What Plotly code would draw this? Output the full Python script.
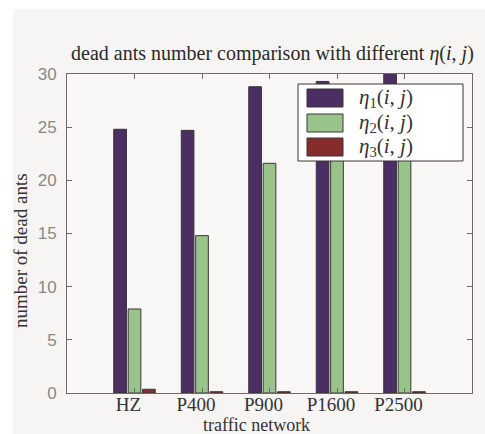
import plotly.graph_objects as go

categories = ["HZ", "P400", "P900", "P1600", "P2500"]
eta1 = [24.8, 24.7, 28.8, 29.3, 30.4]
eta2 = [7.9, 14.8, 21.6, 23.0, 23.8]
eta3 = [0.35, 0.12, 0.12, 0.12, 0.12]
yticks = [0, 5, 10, 15, 20, 25, 30]

series_names = ["<i>η</i><sub>1</sub>(<i>i</i>, <i>j</i>)",
                "<i>η</i><sub>2</sub>(<i>i</i>, <i>j</i>)",
                "<i>η</i><sub>3</sub>(<i>i</i>, <i>j</i>)"]
colors = ["#4b2e63", "#98c48c", "#862c2c"]

W, H = 485, 434
L, R, T, B = 67, 472, 74, 393

def px(x):
    return (x - L) / (R - L)

def py(y):
    return (B - y) / (B - T)

xpos = list(range(1, len(categories) + 1))

fig = go.Figure()
for name, vals, c in zip(series_names, [eta1, eta2, eta3], colors):
    fig.add_trace(go.Bar(x=xpos, y=vals, name=name, marker=dict(color=c, line=dict(color="#3a3535", width=1)),
                         showlegend=False))

serif = "Liberation Serif, Times New Roman, serif"
fig.update_layout(
    width=W, height=H,
    margin=dict(l=L, r=W - R, t=T, b=H - B),
    paper_bgcolor="#f6f5f3",
    plot_bgcolor="#f8f7f5",
    barmode="group", bargap=0.36, bargroupgap=0.12,
    xaxis=dict(range=[0, 6], tickvals=xpos, ticktext=categories, showgrid=False, zeroline=False,
               showline=True, linecolor="#6f6a66", linewidth=1, mirror="ticks",
               ticks="inside", ticklen=5, tickcolor="#6f6a66", ticklabelstandoff=-6, ticklabelshift=-6,
               tickfont=dict(family=serif, size=19, color="#333333")),
    yaxis=dict(range=[0, 30], tickvals=yticks, showgrid=False, zeroline=False,
               showline=True, linecolor="#6f6a66", linewidth=1, mirror="ticks",
               ticks="inside", ticklen=5, tickcolor="#6f6a66", ticklabelstandoff=6,
               tickfont=dict(family="Liberation Sans, Arial, sans-serif", size=17, color="#8a8886")),
    showlegend=False,
)

shapes = []
shapes.append(dict(type="rect", xref="paper", yref="paper", x0=px(0), x1=px(W), y0=py(0), y1=py(9),
                   fillcolor="white", line=dict(width=0), layer="below"))
shapes.append(dict(type="rect", xref="paper", yref="paper", x0=px(0), x1=px(13), y0=py(H), y1=py(0),
                   fillcolor="white", line=dict(width=0), layer="below"))
shapes.append(dict(type="rect", xref="paper", yref="paper", x0=px(298), x1=px(463), y0=py(161), y1=py(84),
                   fillcolor="white", line=dict(color="#3a3535", width=1), layer="above"))
sw_y = [(89, 107), (114, 132), (138, 156)]
for (y0, y1), c in zip(sw_y, colors):
    shapes.append(dict(type="rect", xref="paper", yref="paper", x0=px(307), x1=px(343), y0=py(y1), y1=py(y0),
                       fillcolor=c, line=dict(color="#3a3535", width=1), layer="above"))
fig.update_layout(shapes=shapes)

ann = []
for (y0, y1), name in zip(sw_y, series_names):
    ann.append(dict(xref="paper", yref="paper", x=px(357), y=py((y0 + y1) / 2), text=name, showarrow=False,
                    xanchor="left", yanchor="middle", font=dict(family=serif, size=21, color="#333333")))
ann.append(dict(xref="paper", yref="paper", x=px(272), y=py(54),
                text="dead ants number comparison with different <i>η</i>(<i>i</i>, <i>j</i>)",
                showarrow=False, xanchor="center", yanchor="middle",
                font=dict(family=serif, size=20, color="#2a2a2a")))
ann.append(dict(xref="paper", yref="paper", x=px(256), y=py(425), text="traffic network",
                showarrow=False, xanchor="center", yanchor="middle",
                font=dict(family=serif, size=18, color="#333333")))
ann.append(dict(xref="paper", yref="paper", x=px(20), y=py(251), text="number of dead ants",
                showarrow=False, xanchor="center", yanchor="middle", textangle=-90,
                font=dict(family=serif, size=19, color="#333333")))
fig.update_layout(annotations=ann)

fig.write_html("out.html")
